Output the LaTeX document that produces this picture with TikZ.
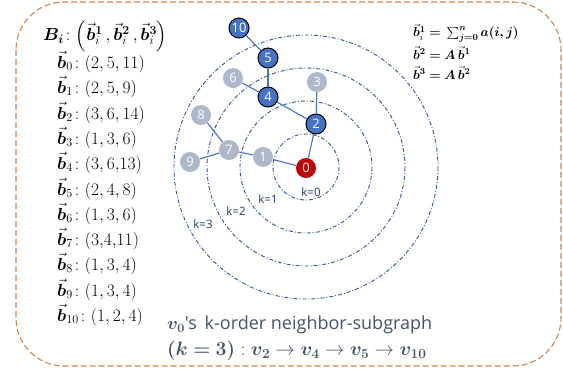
\RequirePackage{fix-cm}
\documentclass[tikz,border=0pt]{standalone}
\usepackage{amsmath,bm}
\usepackage{fontspec}
\newfontfamily\labelfont{Open Sans}
\definecolor{frameorange}{RGB}{210,130,70}
\definecolor{ringblue}{RGB}{47,85,151}
\definecolor{edgeblue}{RGB}{68,114,196}
\definecolor{nodegrey}{RGB}{173,185,202}
\definecolor{nodered}{RGB}{192,0,0}
\definecolor{slate}{RGB}{68,84,106}
\definecolor{navy}{RGB}{31,56,100}
\newcommand{\bvec}[1]{\vec{\bm{#1}}}
\tikzset{
  vnode/.style={circle,minimum size=20pt,inner sep=0pt,text=white,font=\labelfont\fontsize{13}{13}\selectfont},
  pathnode/.style={vnode,fill=edgeblue,draw=black,line width=1pt},
  restnode/.style={vnode,fill=nodegrey},
  rootnode/.style={vnode,fill=nodered},
  ring/.style={ringblue,line width=.9pt,dash pattern=on 4pt off 2pt on 1pt off 2pt},
  klabel/.style={text=navy,font=\labelfont\fontsize{11.5}{12}\selectfont,inner sep=1pt},
  link/.style={edgeblue,line width=1.1pt},
  vecline/.style={anchor=west,inner sep=0pt,font=\fontsize{17.5}{20}\selectfont},
  ruleline/.style={anchor=west,inner sep=0pt,font=\fontsize{13}{15}\selectfont}
}

\begin{document}
\begin{tikzpicture}[x=1pt,y=-1pt]
\useasboundingbox (0,0) rectangle (563,368);
\draw[frameorange,line width=1.1pt,dash pattern=on 6pt off 3pt,rounded corners=48pt] (16,2) rectangle (561,366);
% rings around v0
\foreach \r in {33,66,99,132}
  \draw[ring] (306,167) circle[radius=\r];
\node[klabel] (k0) at (311,192) {k=0};
\node[klabel] (k1) at (268,199) {k=1};
\node[klabel] (k2) at (236,211) {k=2};
\node[klabel] (k3) at (203,224) {k=3};
% graph
\node[rootnode] (v0) at (306,168) {0};
\node[restnode] (v1) at (263,157) {1};
\node[pathnode] (v2) at (316,124) {2};
\node[restnode] (v3) at (317,82) {3};
\node[pathnode] (v4) at (268,97) {4};
\node[pathnode] (v5) at (268,58) {5};
\node[restnode] (v6) at (233,78) {6};
\node[restnode] (v7) at (229,150) {7};
\node[restnode] (v8) at (201,115) {8};
\node[restnode] (v9) at (190,162) {9};
\node[pathnode] (v10) at (239,28) {10};
\foreach \a/\b in {v0/v2,v0/v1,v1/v7,v7/v8,v7/v9,v2/v3,v2/v4,v4/v6,v4/v5,v5/v10}
  \draw[link] (\a) -- (\b);
% vectors b_i
\node[vecline] (head) at (43,36) {$\bm{B_i}\colon\!\left(\bvec{b}_i^{\bm 1}\,,\bvec{b}_i^{\bm 2}\,,\bvec{b}_i^{\bm 3}\right)$};
\node[vecline] (b0) at (57,62) {$\bvec{b}_0\colon(2,5,11)$};
\node[vecline] (b1) at (57,87) {$\bvec{b}_1\colon(2,5,9)$};
\node[vecline] (b2) at (57,113) {$\bvec{b}_2\colon(3,6,14)$};
\node[vecline] (b3) at (57,138) {$\bvec{b}_3\colon(1,3,6)$};
\node[vecline] (b4) at (57,163) {$\bvec{b}_4\colon(3,6{,}13)$};
\node[vecline] (b5) at (57,189) {$\bvec{b}_5\colon(2,4,8)$};
\node[vecline] (b6) at (57,214) {$\bvec{b}_6\colon(1,3,6)$};
\node[vecline] (b7) at (57,239) {$\bvec{b}_7\colon(3{,}4{,}11)$};
\node[vecline] (b8) at (57,264) {$\bvec{b}_8\colon(1,3,4)$};
\node[vecline] (b9) at (57,290) {$\bvec{b}_9\colon(1,3,4)$};
\node[vecline] (b10) at (57,315) {$\bvec{b}_{10}\colon(1,2,4)$};
% update rule
\node[ruleline] (rule1) at (413,33) {$\bvec{b}_i^{\bm 1}\bm{=}\,\sum_{\bm{j=0}}^{\bm n}\bm{a(i,j)}$};
\node[ruleline] (rule2) at (413,53) {$\bvec{b}^{\bm 2}\bm{=A}\,\bvec{b}^{\bm 1}$};
\node[ruleline] (rule3) at (413,73) {$\bvec{b}^{\bm 3}\bm{=A}\,\bvec{b}^{\bm 2}$};
% caption
\node[anchor=west,inner sep=0pt,text=slate,font=\labelfont\fontsize{18}{20}\selectfont] (cap1) at (167,325) {$\bm{v_0}$'s\, k-order neighbor-subgraph};
\node[anchor=west,inner sep=0pt,text=slate,font=\fontsize{19.5}{22}\selectfont] (cap2) at (167,351) {$\bm{(k=3)}:\bm{v_2}\rightarrow\bm{v_4}\rightarrow\bm{v_5}\rightarrow\bm{v_{10}}$};
\end{tikzpicture}
\end{document}
